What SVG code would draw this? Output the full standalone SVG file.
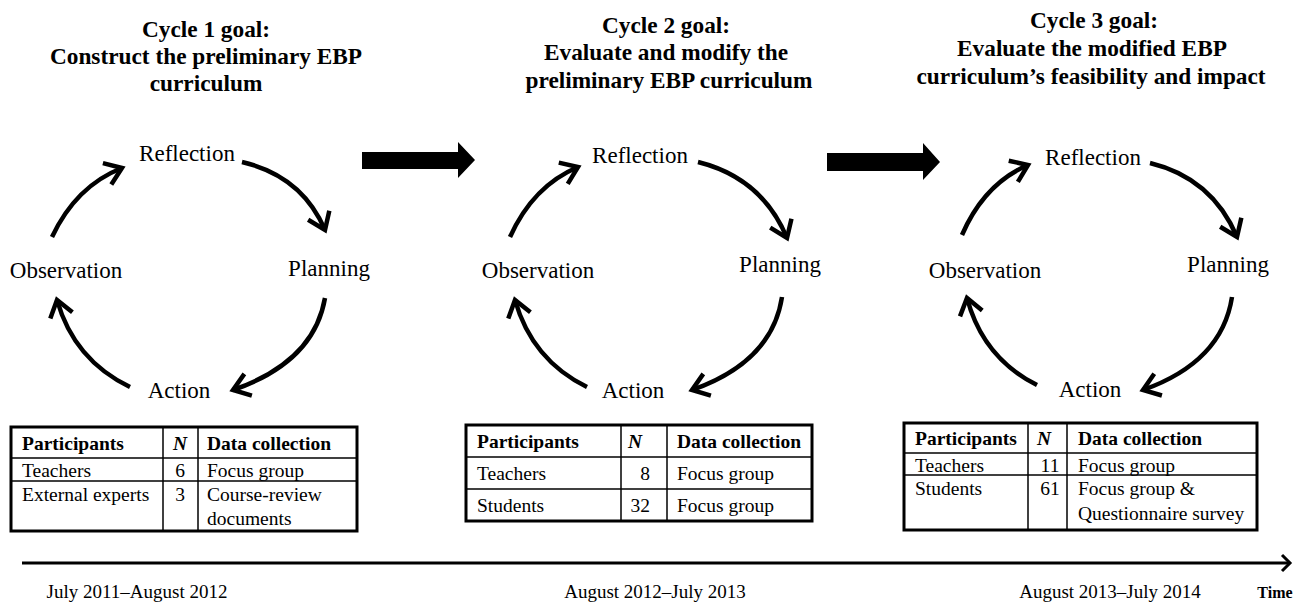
<svg xmlns="http://www.w3.org/2000/svg" width="1297" height="608" viewBox="0 0 1297 608">
<style>
text{font-family:"Liberation Serif","Times New Roman",serif;fill:#000}
.title{font-size:23.3px;font-weight:bold;text-anchor:middle}
.lbl{font-size:23px;text-anchor:middle}
.tb{font-size:19.5px}
.th{font-size:19.5px;font-weight:bold}
.date{font-size:19px;text-anchor:middle}
.arc{fill:none;stroke:#000;stroke-width:4.5;marker-end:url(#chev)}
.outer{fill:#fff;stroke:#000;stroke-width:3}
.inner{stroke:#000;stroke-width:1.5}
.block{fill:#000}
</style>
<defs>
<marker id="chev" markerUnits="userSpaceOnUse" markerWidth="40" markerHeight="40" viewBox="-30 -20 40 40" refX="0" refY="0" orient="auto" overflow="visible">
<path d="M-16,-11.5 L0,0 L-16,11.5" fill="none" stroke="#000" stroke-width="4.5" stroke-linejoin="miter"/>
</marker>
<marker id="tchev" markerUnits="userSpaceOnUse" markerWidth="30" markerHeight="30" viewBox="-20 -15 30 30" refX="0" refY="0" orient="auto" overflow="visible">
<path d="M-8,-8 L0,0 L-8,8" fill="none" stroke="#000" stroke-width="3"/>
</marker>
</defs>

<g id="titles">
<g id="title1">
<text class="title" x="206" y="37">Cycle 1 goal:</text>
<text class="title" x="206" y="64">Construct the preliminary EBP</text>
<text class="title" x="206" y="91">curriculum</text>
</g>
<g id="title2">
<text class="title" x="666" y="33">Cycle 2 goal:</text>
<text class="title" x="666" y="60">Evaluate and modify the</text>
<text class="title" x="669" y="88">preliminary EBP curriculum</text>
</g>
<g id="title3">
<text class="title" x="1094" y="28">Cycle 3 goal:</text>
<text class="title" x="1092" y="56">Evaluate the modified EBP</text>
<text class="title" x="1091" y="84">curriculum’s feasibility and impact</text>
</g>
</g>

<g id="cycle1">
<text class="lbl" x="187" y="161">Reflection</text>
<text class="lbl" x="329" y="276">Planning</text>
<text class="lbl" x="66" y="278">Observation</text>
<text class="lbl" x="179" y="398">Action</text>
</g>
<g id="cycle2">
<text class="lbl" x="640" y="163">Reflection</text>
<text class="lbl" x="780" y="272">Planning</text>
<text class="lbl" x="538" y="278">Observation</text>
<text class="lbl" x="633" y="398">Action</text>
</g>
<g id="cycle3">
<text class="lbl" x="1093" y="165">Reflection</text>
<text class="lbl" x="1228" y="272">Planning</text>
<text class="lbl" x="985" y="278">Observation</text>
<text class="lbl" x="1090" y="397">Action</text>
</g>

<g id="connectors">
<!-- cycle 1 -->
<path class="arc" d="M242,162 Q302,176 325,230"/>
<path class="arc" d="M325,298 Q314,362 233,390"/>
<path class="arc" d="M130,387 Q74,360 57,300"/>
<path class="arc" d="M52,237 Q76,186 122,168"/>
<!-- cycle 2 -->
<path class="arc" d="M698,162 Q762,178 787,238"/>
<path class="arc" d="M782,297 Q772,362 692,390"/>
<path class="arc" d="M587,387 Q532,360 515,300"/>
<path class="arc" d="M510,237 Q533,186 578,167"/>
<!-- cycle 3 -->
<path class="arc" d="M1150,163 Q1212,178 1237,237"/>
<path class="arc" d="M1232,297 Q1222,362 1143,390"/>
<path class="arc" d="M1037,385 Q983,358 967,298"/>
<path class="arc" d="M962,235 Q984,184 1028,165"/>
<!-- block arrows between cycles -->
<polygon class="block" points="362,152 458,152 458,142 475,160 458,178 458,169 362,169"/>
<polygon class="block" points="827,153 923,153 923,143 940,162 923,180 923,171 827,171"/>
<!-- timeline -->
<line x1="22" y1="563" x2="1290" y2="563" stroke="#000" stroke-width="3" marker-end="url(#tchev)"/>
</g>

<g id="table1">
<rect class="outer" x="11" y="427" width="346" height="104"/>
<line class="inner" x1="11" y1="458" x2="357" y2="458" stroke-width="2"/>
<line class="inner" x1="11" y1="481" x2="357" y2="481"/>
<line class="inner" x1="163" y1="427" x2="163" y2="531" stroke-width="2"/>
<line class="inner" x1="198" y1="427" x2="198" y2="531" stroke-width="2"/>
<text class="th" x="22" y="450">Participants</text>
<text class="th" x="173" y="450" font-style="italic">N</text>
<text class="th" x="207" y="450">Data collection</text>
<text class="tb" x="22" y="477">Teachers</text>
<text class="tb" x="180" y="477" text-anchor="middle">6</text>
<text class="tb" x="207" y="477">Focus group</text>
<text class="tb" x="22" y="501">External experts</text>
<text class="tb" x="180" y="501" text-anchor="middle">3</text>
<text class="tb" x="207" y="501">Course-review</text>
<text class="tb" x="207" y="525">documents</text>
</g>

<g id="table2">
<rect class="outer" x="466" y="425" width="346" height="96"/>
<line class="inner" x1="466" y1="457" x2="812" y2="457"/>
<line class="inner" x1="466" y1="489" x2="812" y2="489"/>
<line class="inner" x1="621" y1="425" x2="621" y2="521" stroke-width="2"/>
<line class="inner" x1="667" y1="425" x2="667" y2="521" stroke-width="2"/>
<text class="th" x="477" y="448">Participants</text>
<text class="th" x="628" y="448" font-style="italic">N</text>
<text class="th" x="677" y="448">Data collection</text>
<text class="tb" x="477" y="480">Teachers</text>
<text class="tb" x="650" y="480" text-anchor="end">8</text>
<text class="tb" x="677" y="480">Focus group</text>
<text class="tb" x="477" y="512">Students</text>
<text class="tb" x="650" y="512" text-anchor="end">32</text>
<text class="tb" x="677" y="512">Focus group</text>
</g>

<g id="table3">
<rect class="outer" x="904" y="423" width="353" height="107"/>
<line class="inner" x1="904" y1="453" x2="1257" y2="453" stroke-width="2"/>
<line class="inner" x1="904" y1="475" x2="1257" y2="475"/>
<line class="inner" x1="1028" y1="423" x2="1028" y2="530" stroke-width="2"/>
<line class="inner" x1="1067" y1="423" x2="1067" y2="530" stroke-width="2"/>
<text class="th" x="915" y="445">Participants</text>
<text class="th" x="1037" y="445" font-style="italic">N</text>
<text class="th" x="1078" y="445">Data collection</text>
<text class="tb" x="915" y="472">Teachers</text>
<text class="tb" x="1050" y="472" text-anchor="middle">11</text>
<text class="tb" x="1078" y="472">Focus group</text>
<text class="tb" x="915" y="495">Students</text>
<text class="tb" x="1050" y="495" text-anchor="middle">61</text>
<text class="tb" x="1078" y="495">Focus group &amp;</text>
<text class="tb" x="1078" y="520">Questionnaire survey</text>
</g>

<g id="dates">
<text class="date" x="137" y="598">July 2011–August 2012</text>
<text class="date" x="655" y="598">August 2012–July 2013</text>
<text class="date" x="1110" y="598">August 2013–July 2014</text>
<text x="1275" y="598" font-size="16" font-weight="bold" text-anchor="middle">Time</text>
</g>
</svg>
